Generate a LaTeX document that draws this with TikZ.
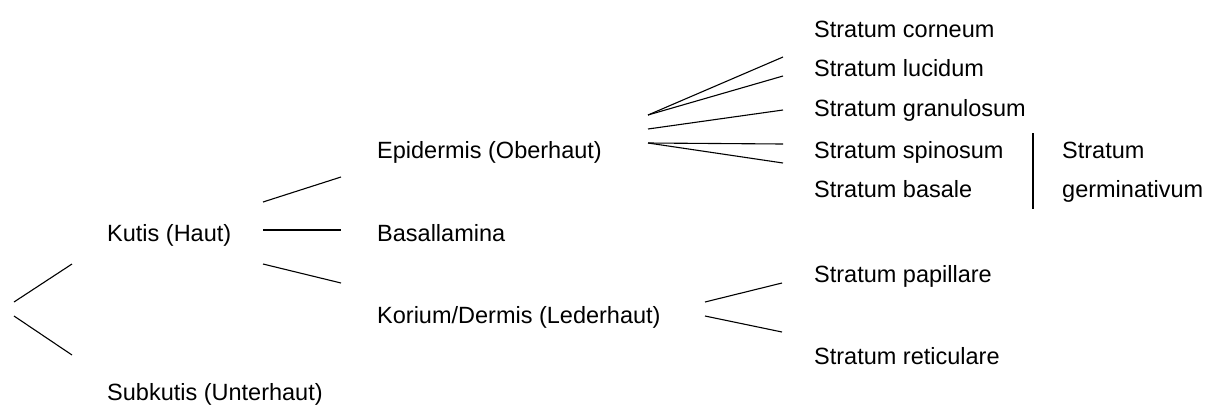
\documentclass[tikz,border=0pt]{standalone}
\usepackage{fontspec}
\setmainfont{Liberation Sans}
\begin{document}
\begin{tikzpicture}[x=1pt,y=-1pt,
  lbl/.style={anchor=base west,inner sep=0pt,font=\fontsize{23.5}{28}\selectfont},
  branch/.style={line width=1.1pt,black}]
\useasboundingbox (0,0) rectangle (1209,408);
% text labels
\node[lbl] (kutis) at (107,241) {Kutis (Haut)};
\node[lbl] (subkutis) at (107,400) {Subkutis (Unterhaut)};
\node[lbl] (epi) at (377,158) {Epidermis (Oberhaut)};
\node[lbl] (basal) at (377,241) {Basallamina};
\node[lbl] (korium) at (377,323) {Korium/Dermis (Lederhaut)};
\node[lbl] (corneum) at (814,37) {Stratum corneum};
\node[lbl] (lucidum) at (814,76) {Stratum lucidum};
\node[lbl] (granulosum) at (814,116) {Stratum granulosum};
\node[lbl] (spinosum) at (814,158) {Stratum spinosum};
\node[lbl] (basale) at (814,197) {Stratum basale};
\node[lbl] (germ1) at (1062,158) {Stratum};
\node[lbl] (germ2) at (1062,197) {germinativum};
\node[lbl] (papillare) at (814,282) {Stratum papillare};
\node[lbl] (reticulare) at (814,364) {Stratum reticulare};
% branch end points
\coordinate (r1) at (14,302);  \coordinate (r1e) at (72,264);
\coordinate (r2) at (14,316);  \coordinate (r2e) at (72,355);
\coordinate (k1) at (263,202); \coordinate (k1e) at (341,177);
\coordinate (k2) at (263,230); \coordinate (k2e) at (341,230);
\coordinate (k3) at (263,264); \coordinate (k3e) at (341,283);
\coordinate (e1) at (648,115); \coordinate (e1a) at (783,57);
\coordinate (e1b) at (783,76);
\coordinate (e2) at (648,129); \coordinate (e2e) at (783,110);
\coordinate (e3) at (648,143); \coordinate (e3a) at (783,144);
\coordinate (e3b) at (783,163);
\coordinate (d1) at (705,302); \coordinate (d1e) at (782,283);
\coordinate (d2) at (705,316); \coordinate (d2e) at (782,332);
\coordinate (g1) at (1033,133); \coordinate (g2) at (1033,209);
% branches
\draw[branch] (r1) -- (r1e);
\draw[branch] (r2) -- (r2e);
\draw[branch] (k1) -- (k1e);
\draw[branch] (k2) -- (k2e);
\draw[branch] (k3) -- (k3e);
\draw[branch] (e1) -- (e1a);
\draw[branch] (e1) -- (e1b);
\draw[branch] (e2) -- (e2e);
\draw[branch] (e3) -- (e3a);
\draw[branch] (e3) -- (e3b);
\draw[branch] (d1) -- (d1e);
\draw[branch] (d2) -- (d2e);
\draw[branch] (g1) -- (g2);
\end{tikzpicture}
\end{document}
